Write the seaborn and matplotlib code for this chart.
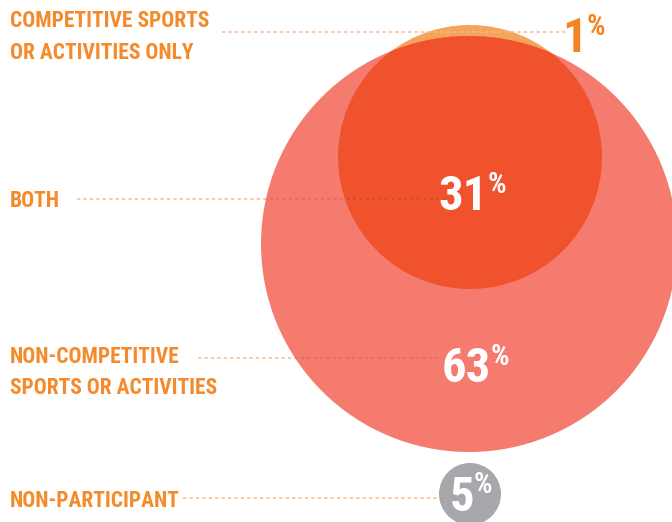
import matplotlib
matplotlib.use("Agg")
import matplotlib.pyplot as plt
from matplotlib.patches import Circle
import seaborn as sns

# chart data
labels = [
    ["COMPETITIVE SPORTS", "OR ACTIVITIES ONLY"],
    ["BOTH"],
    ["NON-COMPETITIVE", "SPORTS OR ACTIVITIES"],
    ["NON-PARTICIPANT"],
]
values = [1, 31, 63, 5]

sns.set_theme(style="white")
plt.rcParams["font.family"] = ["Roboto Condensed", "DejaVu Sans"]

LABEL_COLOR = "#F58A2B"
SALMON = "#F47B6E"
RED = "#F0522D"
ORANGE = "#F5A45C"
GRAY = "#A7A8AB"
DOT = "#F9B98A"

fig = plt.figure(figsize=(6.72, 5.22), dpi=100)
ax = fig.add_axes([0, 0, 1, 1])
ax.set_xlim(0, 672)
ax.set_ylim(522, 0)
ax.axis("off")

# circles (pixel layout)
comp = Circle((470, 157), 132, color=ORANGE, lw=0, zorder=1)
noncomp = Circle((469, 244), 208, color=SALMON, lw=0, zorder=2)
both = Circle((470, 157), 132, color=RED, lw=0, zorder=3)
nonpart = Circle((470, 494), 31, color=GRAY, lw=0, zorder=2)
for c in (comp, noncomp, both, nonpart):
    ax.add_patch(c)
both.set_clip_path(noncomp)


def leader(x0, x1, y, overlays=()):
    # dotted leader, darker where it crosses a shape
    kw = dict(lw=1.1, linestyle=(0, (2.2, 2.0)), solid_capstyle="butt")
    ax.plot([x0, x1], [y, y], color=DOT, zorder=4, **kw)
    for clip, col in overlays:
        ln, = ax.plot([x0, x1], [y, y], color=col, zorder=4.5, **kw)
        ln.set_clip_path(clip)


leader(222, 565, 32)
leader(77, 447, 199, [(noncomp, "#EC5A3E"), (comp, "#D8401E")])
leader(198, 440, 358, [(noncomp, "#EC5A3E")])
leader(183, 447, 498, [(nonpart, "#B09078")])

# category labels
label_base = [[27, 59], [207], [363, 394], [507]]
for lines, bases in zip(labels, label_base):
    for txt, yb in zip(lines, bases):
        ax.text(10, yb, txt, color=LABEL_COLOR, fontsize=15.5, fontweight="bold",
                ha="left", va="baseline", zorder=6)

# percentages: (right edge of digits, baseline, top, colour)
num_pos = [(587, 52, 17, "#F58220"), (488, 210, 175, "white"),
           (491, 382, 347, "white"), (474, 511, 475, "white")]
for v, (xr, yb, yt, col) in zip(values, num_pos):
    ax.text(xr, yb, f"{v}", color=col, fontsize=35, fontweight="bold",
            ha="right", va="baseline", zorder=6)
    ax.text(xr, yt - 4, "%", color=col, fontsize=21, fontweight="bold",
            ha="left", va="top", zorder=6)

fig.savefig("out.png", dpi=100, facecolor="white")
